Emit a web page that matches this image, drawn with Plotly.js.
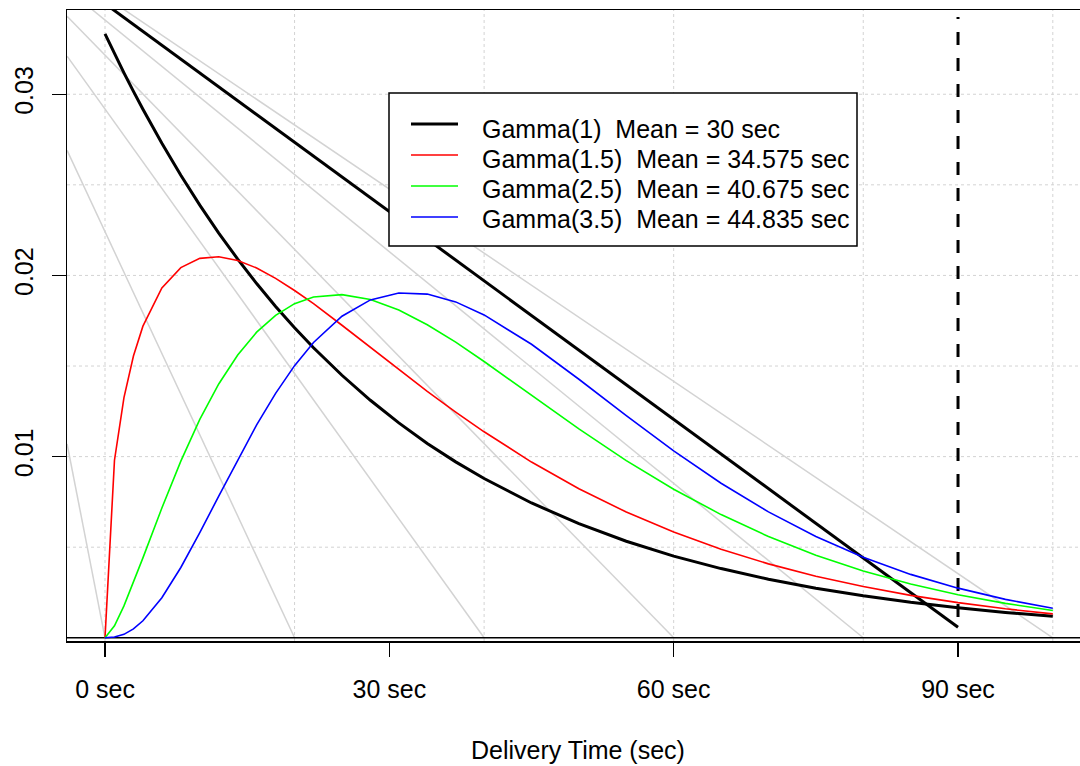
<!DOCTYPE html>
<html>
<head>
<meta charset="utf-8">
<script src="https://cdn.plot.ly/plotly-3.0.1.min.js"></script>
<style>
html, body { margin: 0; padding: 0; background: #ffffff; }
#chart { width: 1080px; height: 766px; }
</style>
</head>
<body>
<div id="chart"></div>
<script>
// ---- data ----
const timeSec = [0,1,2,3,4,6,8,10,12,14,16,18,20,22,25,28,31,34,37,40,45,50,55,60,65,70,75,80,85,90,95,100];
const gamma1  = [0.03333,0.03224,0.03118,0.03016,0.02917,0.02729,0.02553,0.02388,0.02234,0.02090,0.01955,0.01829,0.01711,0.01601,0.01449,0.01311,0.01186,0.01073,0.00971,0.00879,0.00744,0.00630,0.00533,0.00451,0.00382,0.00323,0.00274,0.00232,0.00196,0.00166,0.00140,0.00119];
const gamma15 = [0,0.00980,0.01326,0.01555,0.01720,0.01931,0.02043,0.02094,0.02103,0.02082,0.02041,0.01984,0.01917,0.01844,0.01725,0.01602,0.01480,0.01360,0.01246,0.01137,0.00970,0.00823,0.00694,0.00584,0.00489,0.00408,0.00340,0.00283,0.00234,0.00194,0.00160,0.00132];
const gamma25 = [0,0.00066,0.00176,0.00304,0.00441,0.00716,0.00975,0.01205,0.01401,0.01561,0.01687,0.01780,0.01844,0.01881,0.01894,0.01867,0.01809,0.01728,0.01632,0.01525,0.01339,0.01153,0.00978,0.00820,0.00680,0.00559,0.00456,0.00369,0.00297,0.00238,0.00190,0.00151];
const gamma35 = [0,0.00004,0.00019,0.00049,0.00094,0.00221,0.00388,0.00580,0.00782,0.00983,0.01175,0.01349,0.01502,0.01630,0.01775,0.01865,0.01903,0.01897,0.01854,0.01782,0.01620,0.01427,0.01226,0.01032,0.00853,0.00695,0.00559,0.00445,0.00350,0.00274,0.00212,0.00163];

const seriesNames = [
  "Gamma(1)\u00A0\u00A0Mean = 30 sec",
  "Gamma(1.5)\u00A0\u00A0Mean = 34.575 sec",
  "Gamma(2.5)\u00A0\u00A0Mean = 40.675 sec",
  "Gamma(3.5)\u00A0\u00A0Mean = 44.835 sec"
];

// grey reference lines: value at x = -4 and the x where each reaches 0
const greyStartX = [-4, -4, -4, -4, -4, -4];
const greyStartY = [0.0107, 0.0269, 0.0321, 0.0343, 0.0358, 0.0368];
const greyEndX   = [0, 20, 40, 60, 80, 100];
const greyEndY   = [0, 0, 0, 0, 0, 0];

// black straight line
const straightX = [0, 90];
const straightY = [0.0350, 0.00058];

// dashed cutoff at 90 sec
const cutoffX = [90, 90];
const cutoffY = [0.00115, 0.03426];

// zero line
const zeroX = [-10, 110];
const zeroY = [0, 0];

const xTickVals = [0, 30, 60, 90];
const xTickText = ["0 sec", "30 sec", "60 sec", "90 sec"];
const yTickVals = [0.01, 0.02, 0.03];
const yTickText = ["0.01", "0.02", "0.03"];

// ---- traces ----
const FONT = "Liberation Sans, Arial, Helvetica, sans-serif";
const FS = 25;
const traces = [];
for (let i = 0; i < greyEndX.length; i++) {
  traces.push({
    x: [greyStartX[i], greyEndX[i]], y: [greyStartY[i], greyEndY[i]],
    mode: "lines", line: {color: "#d3d3d3", width: 1.5},
    showlegend: false, hoverinfo: "skip"
  });
}
traces.push({x: zeroX, y: zeroY, mode: "lines", line: {color: "#000000", width: 1.5}, showlegend: false, hoverinfo: "skip"});
traces.push({x: straightX, y: straightY, mode: "lines", line: {color: "#000000", width: 3}, showlegend: false, hoverinfo: "skip"});
traces.push({x: cutoffX, y: cutoffY, mode: "lines", line: {color: "#000000", width: 3, dash: "13px,13px"}, showlegend: false, hoverinfo: "skip"});

const seriesVals = [gamma1, gamma15, gamma25, gamma35];
const seriesColors = ["#000000", "#ff0000", "#00ff00", "#0000ff"];
const seriesWidths = [3, 1.6, 1.6, 1.6];
for (let i = 0; i < seriesVals.length; i++) {
  traces.push({
    x: timeSec, y: seriesVals[i], name: seriesNames[i],
    mode: "lines", line: {color: seriesColors[i], width: seriesWidths[i]},
    showlegend: false
  });
}

// ---- grid shapes (dotted light grey) ----
const shapes = [];
for (let gx = 0; gx <= 100; gx += 20) {
  shapes.push({type: "line", xref: "x", yref: "paper", x0: gx, x1: gx, y0: 0, y1: 1, layer: "below",
               line: {color: "#d3d3d3", width: 1, dash: "dot"}});
}
for (let k = 1; k <= 6; k++) {
  const gy = k * 0.005;
  shapes.push({type: "line", xref: "paper", yref: "y", x0: 0, x1: 1, y0: gy, y1: gy, layer: "below",
               line: {color: "#d3d3d3", width: 1, dash: "dot"}});
}

// ---- legend box (drawn like R's legend(): white box, line keys, labels) ----
const PL = 67, PB = 641, PW = 1013, PH = 631;
const px2x = p => (p - PL) / PW;
const px2y = p => (PB - p) / PH;
shapes.push({type: "rect", xref: "paper", yref: "paper", layer: "above",
             x0: px2x(389), x1: px2x(857), y0: px2y(246), y1: px2y(93),
             fillcolor: "#ffffff", line: {color: "#000000", width: 1.5}});
const keyRows = [124, 155, 186, 217];
const textRows = [129, 159, 189, 219];
const annotations = [];
for (let i = 0; i < seriesNames.length; i++) {
  shapes.push({type: "line", xref: "paper", yref: "paper", layer: "above",
               x0: px2x(411), x1: px2x(458), y0: px2y(keyRows[i]), y1: px2y(keyRows[i]),
               line: {color: seriesColors[i], width: seriesWidths[i]}});
  annotations.push({text: seriesNames[i], xref: "paper", yref: "paper",
                    x: px2x(480), y: px2y(textRows[i]), xanchor: "left", yanchor: "middle",
                    showarrow: false, font: {family: FONT, size: FS, color: "#000000"}});
}
annotations.push({
  text: "Delivery Time (sec)", xref: "paper", yref: "paper",
  x: px2x(578), y: px2y(750), xanchor: "center", yanchor: "middle", showarrow: false,
  font: {family: FONT, size: FS, color: "#000000"}
});

const layout = {
  width: 1080, height: 766,
  margin: {l: 67, r: 0, t: 10, b: 125, pad: 0},
  paper_bgcolor: "#ffffff", plot_bgcolor: "#ffffff",
  font: {family: FONT, size: FS, color: "#000000"},
  showlegend: false,
  xaxis: {
    range: [-4.01, 102.87], showgrid: false, zeroline: false,
    showline: true, mirror: true, linecolor: "#000000", linewidth: 1.5,
    tickmode: "array", tickvals: xTickVals, ticktext: xTickText,
    ticks: "outside", ticklen: 14, tickwidth: 1.5, tickcolor: "#000000",
    ticklabelstandoff: 11,
    tickfont: {family: FONT, size: FS, color: "#000000"}
  },
  yaxis: {
    range: [-0.000177, 0.03465], showgrid: false, zeroline: false,
    showline: true, mirror: false, linecolor: "#000000", linewidth: 1.5,
    tickmode: "array", tickvals: yTickVals, ticktext: yTickText, tickangle: -90,
    ticks: "outside", ticklen: 14, tickwidth: 1.5, tickcolor: "#000000",
    ticklabelstandoff: 9,
    tickfont: {family: FONT, size: FS, color: "#000000"}
  },
  shapes: shapes,
  annotations: annotations
};

Plotly.newPlot("chart", traces, layout, {displayModeBar: false, staticPlot: true});
</script>
</body>
</html>
